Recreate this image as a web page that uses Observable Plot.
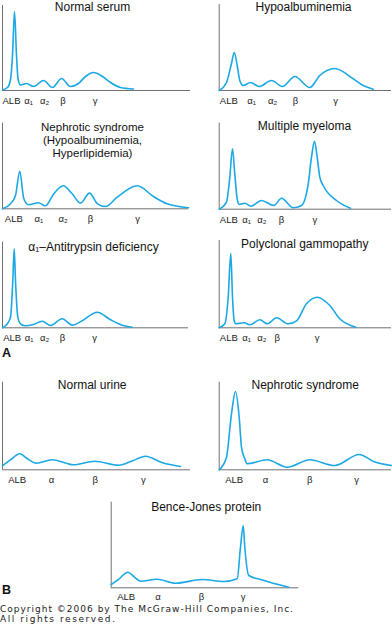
<!DOCTYPE html>
<html><head><meta charset="utf-8">
<script src="https://cdn.jsdelivr.net/npm/d3@7"></script>
<script src="https://cdn.jsdelivr.net/npm/@observablehq/plot@0.6"></script>
<style>
body{margin:0;background:#fff;}
#root{position:relative;width:392px;height:637px;overflow:hidden;font-family:"Liberation Sans",Arial,Helvetica,sans-serif;}
#root svg{position:absolute;left:0;top:0;}
</style></head><body><div id="root"></div>
<script>
// ---- data: [mobility, intensity] (arbitrary units) ----
const serumTicks = ["ALB", "α₁", "α₂", "β", "γ"];
const urineTicks = ["ALB", "α", "β", "γ"];

const normalSerum = [[0,0.5],[5,3],[8,11],[10,35],[12,79],[14,35],[15.5,12],[18,5.5],[24,7],[31,4],[41,10],[50,3],[59,12],[68,4],[76,7],[83,14],[91,18],[100,14],[108,8],[118,3],[131,1.5]];
const hypoalbuminemia = [[0,0],[7.3,8],[12.3,27],[15,38],[18,25],[20.6,10],[24,5],[31.3,8],[40,4],[52.3,10],[63.3,4],[75.6,14],[90.6,3],[100.6,15],[115.6,22],[134,11.7],[144,5],[154,1.3]];
const nephroticSerum = [[0,0],[8,5],[13,13.3],[17.3,37.6],[21.3,10],[26,4],[36,6],[43,3],[51.3,15],[60.7,23],[69.7,15],[78,5.7],[87,15.7],[95,5],[103,2.3],[114.7,11.6],[134.7,23],[151.3,12],[164.7,5],[186,1]];
const multipleMyeloma = [[0,0],[7.3,7],[10.6,32],[13.3,60.4],[15.6,35],[18,10],[20,4.7],[25.6,6],[31.6,3],[42.3,8.7],[54.6,3.7],[62.3,11],[74,1.4],[82.3,3.7],[89,25],[92.3,52],[95.3,68],[98,52],[100.6,32],[104,23.7],[117.3,8.7],[131.3,1]];
const antitrypsinDef = [[0,0],[4,3],[8,10.6],[10.3,47],[11.7,79],[13,47],[15.3,10.6],[18,4],[23,2],[30,3],[39.7,6.6],[48,2.3],[59.7,9],[69.7,2.7],[79.7,7],[94.7,15.6],[108,8],[119.7,2.6],[129.7,0.6]];
const polyclonal = [[0,0],[5.6,4],[9,30.6],[11.6,74.6],[13.3,30.6],[15,7],[16.6,4],[25,5],[30.6,3],[40.6,8],[48.3,4],[57.3,10],[69,4],[77.3,7],[87.3,24],[98,30.6],[110.6,22.3],[120.6,9],[136.6,0.6]];
const normalUrine = [[0,4],[8,10],[17.3,16],[25,11],[33.7,6.6],[49.7,10],[71.3,5],[92,8.6],[116.3,4.6],[130,9],[143,13.6],[160,7],[178,3.3]];
const nephroticUrine = [[0,0],[7.3,12.6],[12.3,56],[16.3,78.3],[20,52.6],[22.3,22.6],[25.6,11],[28,6],[48,10],[68,2.6],[90.6,10],[115.6,4.3],[140,15.3],[155,8],[172.3,4.3]];
const benceJones = [[0,3.3],[8,9],[16.6,15.6],[23,11],[29.3,6.6],[46,8.6],[64.3,4.6],[91,8.3],[112.6,6.3],[126,9],[129.3,40.6],[132,62.3],[133.6,40.6],[137.6,12.3],[149.3,8.3],[177.6,0.6]];

// tick positions along the mobility axis
const normalSerumTickX = [9,26,42,60.5,92.5];
const hypoTickX = [9.6,32.3,53.3,76.3,116.3];
const nephSerumTickX = [11.3,36.3,60.5,88,135];
const myelomaTickX = [9.6,27.3,42.6,62.3,95.6];
const antitrypsinTickX = [9.7,26.7,42,60,92];
const polyTickX = [9.6,27.3,42.6,58,98];
const normalUrineTickX = [14.7,48.9,92.7,140.8];
const nephUrineTickX = [15,46.3,90.6,137.3];
const benceJonesTickX = [15,46.8,90.3,131.8];

// ---- layout ----
const W = 392, H = 637;
const panels = [
  {title:"Normal serum", data:normalSerum, ticks:serumTicks, tickX:normalSerumTickX, box:[2,5,190,90], t:[90,-3]},
  {title:"Hypoalbuminemia", data:hypoalbuminemia, ticks:serumTicks, tickX:hypoTickX, box:[218.7,4,391,90], t:[84.3,-2]},
  {title:"Nephrotic syndrome\n(Hypoalbuminemia,\nHyperlipidemia)", data:nephroticSerum, ticks:serumTicks, tickX:nephSerumTickX, box:[2,122.7,188,208.3], t:[90,-0.9], fs:11.5, lh:1.1},
  {title:"Multiple myeloma", data:multipleMyeloma, ticks:serumTicks, tickX:myelomaTickX, box:[218.7,122.7,391,208.7], t:[85.3,-1.7]},
  {title:"α₁–Antitrypsin deficiency", data:antitrypsinDef, ticks:serumTicks, tickX:antitrypsinTickX, box:[2,241.7,188,327.3], t:[91,0.3]},
  {title:"Polyclonal gammopathy", data:polyclonal, ticks:serumTicks, tickX:polyTickX, box:[218.7,240,391,327.3], t:[85.6,-1]},
  {title:"Normal urine", data:normalUrine, ticks:urineTicks, tickX:normalUrineTickX, box:[2,381.7,190,469.3], t:[89.7,-1.7]},
  {title:"Nephrotic syndrome", data:nephroticUrine, ticks:urineTicks, tickX:nephUrineTickX, box:[218.7,381.7,391,469.3], t:[86,-1.7]},
  {title:"Bence-Jones protein", data:benceJones, ticks:urineTicks, tickX:benceJonesTickX, box:[110.7,501.7,298.3,587.3], t:[95,0.3], tdy:9.5}
];

const root = document.getElementById("root");
const axisColor = "#707070", curveColor = "#1ba8e4";

for (const p of panels) {
  const [l, t, r, b] = p.box;
  const chart = Plot.plot({
    width: W, height: H,
    marginLeft: l, marginTop: t, marginRight: W - r, marginBottom: H - b,
    x: {domain: [0, r - l], axis: null},
    y: {domain: [0, b - t], axis: null},
    style: {background: "transparent", overflow: "visible", fontFamily: '"Liberation Sans", Arial, sans-serif'},
    marks: [
      Plot.ruleY([0], {stroke: axisColor, strokeWidth: 1}),
      Plot.ruleX([0], {stroke: axisColor, strokeWidth: 1}),
      Plot.line(p.data, {x: d => d[0], y: d => d[1], curve: "monotone-x", stroke: curveColor, strokeWidth: 1.6}),
      Plot.text(p.ticks, {x: (d, i) => p.tickX[i], y: 0, dy: p.tdy || 10.5, fontSize: 9.5, fill: "#1a1a1a"}),
      Plot.text([p.title], {frameAnchor: "top-left", dx: p.t[0], dy: p.t[1], lineAnchor: "top", textAnchor: "middle", fontSize: p.fs || 12, lineHeight: p.lh || 1.05, fill: "#111"})
    ]
  });
  root.appendChild(chart);
}

// panel letters and copyright
const svg = d3.select(root).append("svg").attr("width", W).attr("height", H);
svg.append("text").attr("x", 2).attr("y", 356.5).attr("font-family", '"Liberation Sans", Arial, sans-serif').attr("font-weight", "bold").attr("font-size", 12.5).attr("fill", "#111").text("A");
svg.append("text").attr("x", 2).attr("y", 594).attr("font-family", '"Liberation Sans", Arial, sans-serif').attr("font-weight", "bold").attr("font-size", 12.5).attr("fill", "#111").text("B");
svg.append("text").attr("x", 0).attr("y", 611.5).attr("font-family", '"DejaVu Sans", Verdana, sans-serif').attr("font-size", 9).attr("fill", "#222")
  .attr("textLength", 293).attr("lengthAdjust", "spacing").text("Copyright ©2006 by The McGraw-Hill Companies, Inc.");
svg.append("text").attr("x", 0).attr("y", 621.5).attr("font-family", '"DejaVu Sans", Verdana, sans-serif').attr("font-size", 9).attr("fill", "#222")
  .attr("textLength", 115).attr("lengthAdjust", "spacing").text("All rights reserved.");
</script></body></html>
